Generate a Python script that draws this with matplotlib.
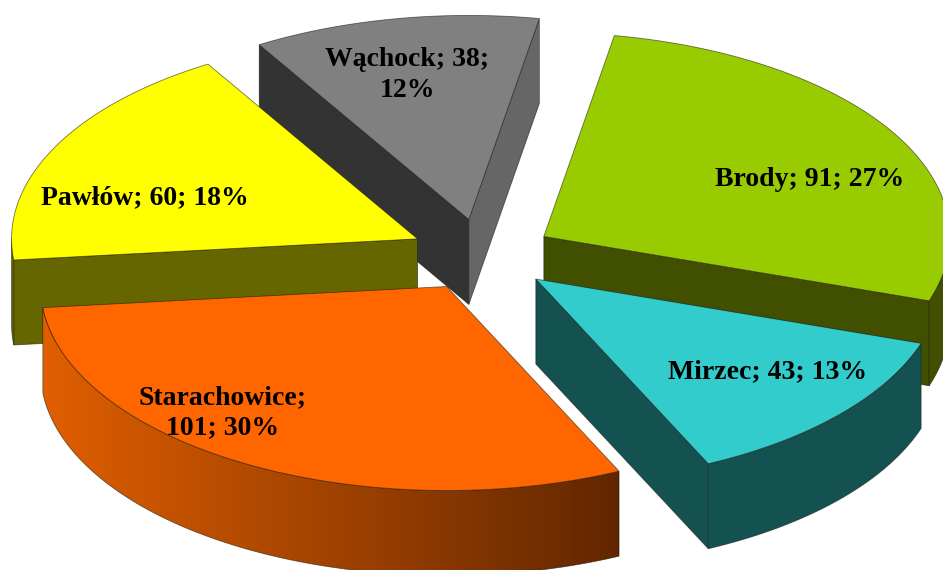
import numpy as np
import matplotlib
matplotlib.use("Agg")
import matplotlib.pyplot as plt
from matplotlib.patches import Polygon

# chart data
names = ["Brody", "Mirzec", "Starachowice", "Pawłów", "Wąchock"]
values = [91, 43, 101, 60, 38]
percents = [27, 13, 30, 18, 12]

# colours, same order as names
top_colors = ["#99CC00", "#33CCCC", "#FF6600", "#FFFF00", "#808080"]
start_wall = ["#405000", "#145252", "#662900", "#666600", "#333333"]
end_wall = ["#405000", "#145252", "#662900", "#666600", "#666666"]
arc_colors = ["#405000", "#145252", None, "#666600", "#666666"]

# label text and centres
label_text = ["{n}; {v}; {p}%", "{n}; {v}; {p}%", "{n};\n{v}; {p}%", "{n}; {v}; {p}%", "{n}; {v};\n{p}%"]
label_pos = [(810, 180), (768, 372), (223, 413), (145, 198), (407, 75)]

# pie geometry in pixels
cx, cy = 482, 255
rx, ry = 406, 204
depth = 85
explode = 72
start_angle = 10
edge = (0.1, 0.1, 0.05, 0.6)

fig = plt.figure(figsize=(9.43, 5.70), dpi=100)
ax = fig.add_axes([0, 0, 1, 1])
ax.axis("off")

spans = np.array(values) / sum(values) * 360
starts = start_angle + np.concatenate(([0], np.cumsum(spans)[:-1]))


def rim(x0, y0, a, b):
    t = np.radians(np.linspace(a, b, 200))
    return np.column_stack((x0 + rx * np.sin(t), y0 - ry * np.cos(t)))


def draw_slice(i):
    a = starts[i]
    b = a + spans[i]
    mid = np.radians((a + b) / 2)
    x0 = cx + explode * np.sin(mid)
    y0 = cy - explode * ry / rx * np.cos(mid)
    down = np.array([0, depth])
    apex = np.array([x0, y0])

    # radial walls facing the viewer
    if np.sin(np.radians(a)) < 0:
        p = rim(x0, y0, a, a)[0]
        ax.add_patch(Polygon([apex, p, p + down, apex + down], fc=start_wall[i], ec=edge, lw=0.6))
    if np.sin(np.radians(b)) > 0:
        p = rim(x0, y0, b, b)[0]
        ax.add_patch(Polygon([apex, p, p + down, apex + down], fc=end_wall[i], ec=edge, lw=0.6))

    # outer wall, only the front half of the rim shows
    a2 = max(a, 90)
    b2 = min(b, 270)
    if b2 > a2:
        arc = rim(x0, y0, a2, b2)
        wall = np.vstack((arc, arc[::-1] + down))
        if arc_colors[i] is None:
            # gradient side of the biggest slice
            left, right = wall[:, 0].min(), wall[:, 0].max()
            grad = np.linspace(0, 1, 256).reshape(1, -1, 1)
            c0 = np.array([0.88, 0.37, 0.0]).reshape(1, 1, 3)
            c1 = np.array([0.38, 0.15, 0.0]).reshape(1, 1, 3)
            img = ax.imshow(c0 * (1 - grad) + c1 * grad, extent=(left, right, wall[:, 1].max(), wall[:, 1].min()),
                            aspect="auto", zorder=2)
            patch = Polygon(wall, fc="none", ec=edge, lw=0.6, zorder=2)
            ax.add_patch(patch)
            img.set_clip_path(patch)
        else:
            ax.add_patch(Polygon(wall, fc=arc_colors[i], ec=edge, lw=0.6))

    # top face
    top = np.vstack(([apex], rim(x0, y0, a, b)))
    ax.add_patch(Polygon(top, fc=top_colors[i], ec=edge, lw=0.6, zorder=2))


# back slices first
for i in [4, 3, 0, 1, 2]:
    draw_slice(i)

for i in range(len(names)):
    label = label_text[i].format(n=names[i], v=values[i], p=percents[i])
    ax.text(label_pos[i][0], label_pos[i][1], label, ha="center", va="center", family="Liberation Serif",
            weight="bold", fontsize=20, linespacing=1.28, zorder=5)

ax.set_xlim(0, 943)
ax.set_ylim(570, 0)
fig.savefig("out.png", dpi=100)
